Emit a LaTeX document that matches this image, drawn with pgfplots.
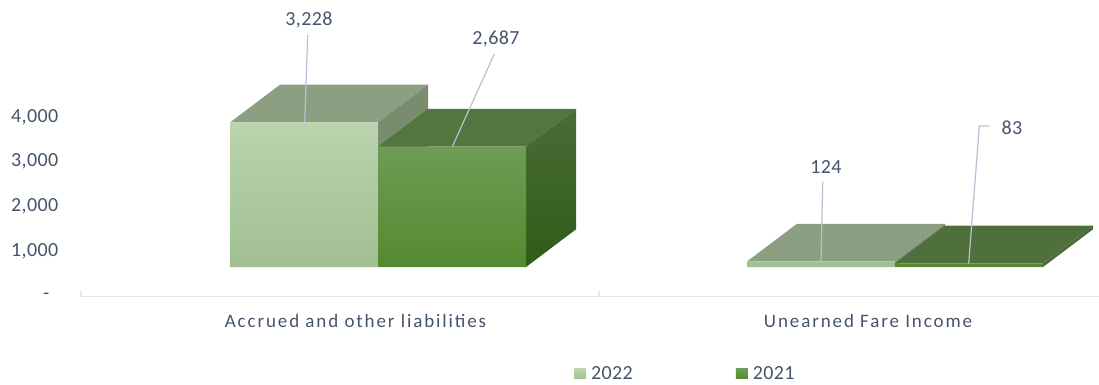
\documentclass[border=0pt]{standalone}
\usepackage{pgfplots}
\pgfplotsset{compat=1.18}
\usepackage{fontspec}
\setmainfont{Carlito}
\newfontfamily\widefont[LetterSpace=10]{Carlito}
\newfontfamily\numfont[LetterSpace=2]{Carlito}
\definecolor{ink}{HTML}{44546A}
\definecolor{leader}{HTML}{B4C2D4}
\definecolor{rule}{HTML}{E3E7EE}
\definecolor{lighttop}{HTML}{8C9F83}
\definecolor{lightside}{HTML}{7A8C6E}
\definecolor{darktop}{HTML}{537540}
\definecolor{darksideA}{HTML}{4A6B36}
\definecolor{darksideB}{HTML}{2F5C18}
\definecolor{lightA}{HTML}{BAD4AE}
\definecolor{lightB}{HTML}{B7D4AA}
\definecolor{lightC}{HTML}{A0BF92}
\definecolor{darkA}{HTML}{6C9C55}
\definecolor{darkB}{HTML}{5D9535}
\definecolor{darkC}{HTML}{548A2E}
\newcommand{\valuefont}{\numfont\fontsize{20}{22}\selectfont}
\begin{document}
\begin{tikzpicture}[x=1pt,y=1pt]
\useasboundingbox (0,0) rectangle (1099,384);
\begin{axis}[
  at={(81pt,88.5pt)}, anchor=origin,
  scale only axis, width=1018pt, height=295.5pt,
  xmin=81, xmax=1099, ymin=0, ymax=6596,
  clip=false,
  axis x line*=bottom, axis y line*=left,
  y axis line style={draw=none},
  x axis line style={draw=rule, line width=1.8pt, yshift=-1pt},
  ytick={0,1000,2000,3000,4000},
  yticklabels={\raisebox{-2pt}{-}\rule{9pt}{0pt},{1,000},{2,000},{3,000},{4,000}},
  yticklabel style={anchor=east, inner sep=0pt, xshift=-22.5pt, yshift=-0.5pt, text=ink, font=\valuefont},
  ytick style={draw=none},
  xtick={355.5,868},
  xticklabels={Accrued and other liabilities,Unearned Fare Income},
  xticklabel style={text=ink, inner sep=0pt, yshift=-19pt, font=\widefont\fontsize{19}{21}\selectfont},
  major x tick style={draw=none},
  minor xtick={81,599},
  minor tick length=6pt,
  minor x tick style={draw=rule, line width=1.2pt, yshift=-1pt},
  legend columns=2,
  legend cell align=left,
  legend style={
    at={(axis cs:574,-1750)}, anchor=west, draw=none, fill=none,
    inner sep=0pt, outer sep=0pt,
    font=\valuefont, text=ink,
    /tikz/every even column/.append style={column sep=101pt},
  },
]
% Group one: back faces of the lighter series
\addplot[forget plot, draw=none, fill=lighttop] coordinates {(230,3864)(280,4705)(428,4705)(378,3864)(230,3864)};
\addplot[forget plot, draw=none, fill=lightside] coordinates {(378,3864)(428,4705)(428,1477)(378,636)(378,3864)};
% Group two: back faces of the lighter series
\addplot[forget plot, draw=none, fill=lighttop] coordinates {(747,760)(797,1601)(945,1601)(895,760)(747,760)};
\addplot[forget plot, draw=none, fill=lightside] coordinates {(895,760)(945,1601)(945,1477)(895,636)(895,760)};
% 2022 front faces
\addplot[ybar, bar width=148, bar shift=0pt, draw=none, yshift=28.5pt,
  top color=lightA, middle color=lightB, bottom color=lightC,
  legend image code/.code={\fill[lightB, yshift=-28.5pt] (0pt,-5pt) rectangle (12pt,5pt);
    \path[yshift=-28.5pt] (15pt,0pt);}]
  coordinates {(304,3228)(821,124)};
\addlegendentry{2022}
% Group one: back faces of the darker series
\addplot[forget plot, draw=none, fill=darktop] coordinates {(378,3323)(428,4164)(576,4164)(526,3323)(378,3323)};
\addplot[forget plot, draw=none, top color=darksideA, bottom color=darksideB] coordinates {(526,3323)(576,4164)(576,1477)(526,636)(526,3323)};
% Group two: back faces of the darker series
\addplot[forget plot, draw=none, fill=darktop!95!black] coordinates {(895,719)(945,1560)(1093,1560)(1043,719)(895,719)};
\addplot[forget plot, draw=none, fill=darksideA] coordinates {(1043,719)(1093,1560)(1093,1477)(1043,636)(1043,719)};
% 2021 front faces
\addplot[ybar, bar width=148, bar shift=0pt, draw=none, yshift=28.5pt,
  top color=darkA, middle color=darkB, bottom color=darkC,
  legend image code/.code={\fill[darkB, yshift=-28.5pt] (0pt,-5pt) rectangle (12pt,5pt);
    \path[yshift=-28.5pt] (15pt,0pt);}]
  coordinates {(452,2687)(969,83)};
\addlegendentry{2021}
% Leader lines from the value labels to the bars
\addplot[forget plot, leader, line width=1.2pt] coordinates {(307.7,5815)(304.7,3864)};
\addplot[forget plot, leader, line width=1.2pt] coordinates {(494.3,5391)(452.3,3323)};
\addplot[forget plot, leader, line width=1.2pt] coordinates {(822.7,2540)(821,760)};
\addplot[forget plot, leader, line width=1.2pt] coordinates {(989.3,3783)(979.3,3783)(968.7,719)};
% Value labels
\node[text=ink, font=\valuefont] at (axis cs:309,6140) {3,228};
\node[text=ink, font=\valuefont] at (axis cs:496,5720) {2,687};
\node[text=ink, font=\valuefont] at (axis cs:826,2865) {124};
\node[text=ink, font=\valuefont] at (axis cs:1012,3735) {83};
\end{axis}
\end{tikzpicture}
\end{document}
